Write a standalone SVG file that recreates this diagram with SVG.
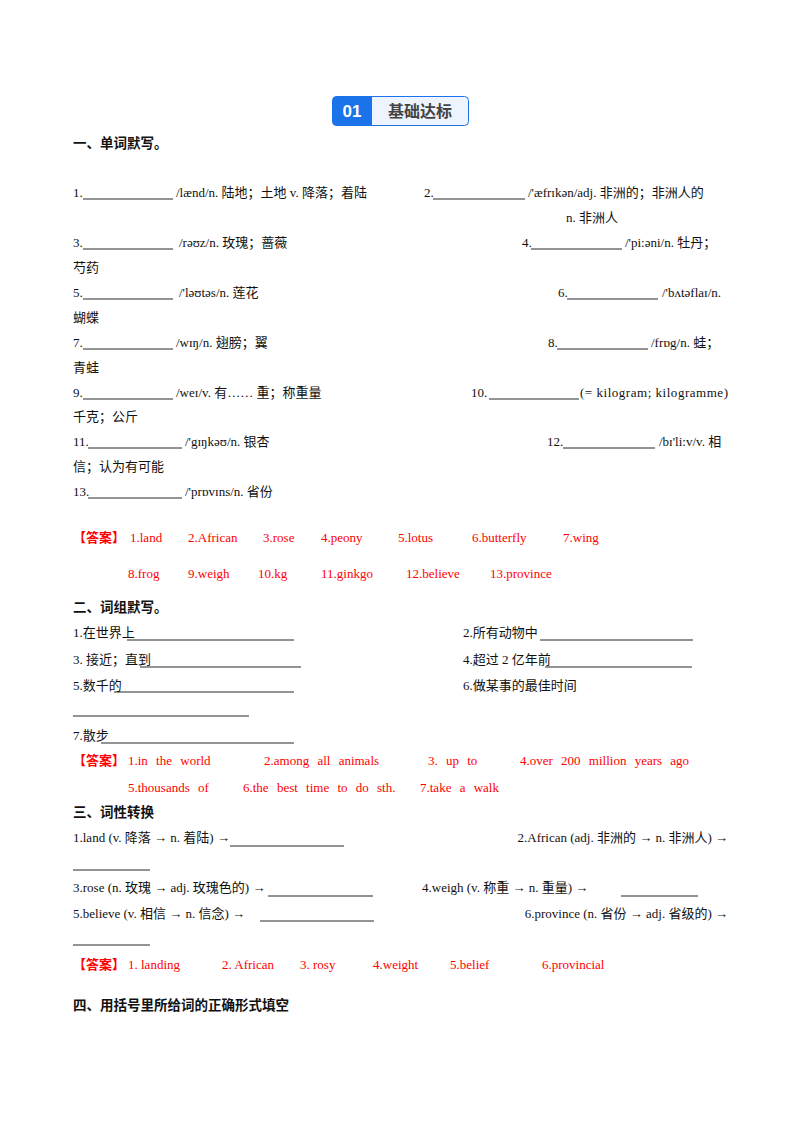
<svg xmlns="http://www.w3.org/2000/svg" width="800" height="1132" viewBox="0 0 800 1132">
<style>
text{font-family:"Liberation Serif","Noto Sans CJK SC",serif;font-size:13px;fill:#111}
.h{font-family:"Liberation Sans","Noto Sans CJK SC",sans-serif;font-weight:bold;font-size:13.5px}
.r{fill:#f00}
.rb{fill:#f00;font-family:"Noto Sans CJK SC",sans-serif;font-weight:bold}
.ws{word-spacing:5px}
.e{text-anchor:end}
line{stroke:#111;stroke-width:0.9}
</style>
<rect width="800" height="1132" fill="#fff"/>
<g id="badge">
<rect x="332.5" y="96.5" width="136" height="29" rx="4" fill="#eef4fd" stroke="#1a73e8"/>
<path d="M336.5 96.5 H372 V125.5 H336.5 A4 4 0 0 1 332.5 121.5 V100.5 A4 4 0 0 1 336.5 96.5Z" fill="#1a73e8"/>
<text x="352" y="117" text-anchor="middle" style="font-family:'Liberation Sans',sans-serif;font-weight:bold;font-size:17px;fill:#fff">01</text>
<text x="420" y="117" text-anchor="middle" style="font-family:'Noto Sans CJK SC',sans-serif;font-weight:bold;font-size:16px;fill:#444">基础达标</text>
</g>
<g id="sec1">
<text class="h" x="73" y="148">一、单词默写。</text>
<text x="73" y="197">1.</text><line x1="83" y1="199" x2="173" y2="199"/><text x="176" y="197">/lænd/n. 陆地；土地 v. 降落；着陆</text>
<text x="424" y="197">2.</text><line x1="433" y1="199" x2="525" y2="199"/><text x="528" y="197">/'æfrɪkən/adj. 非洲的；非洲人的</text>
<text x="566" y="222">n. 非洲人</text>
<text x="73" y="247">3.</text><line x1="83" y1="249" x2="173" y2="249"/><text x="179" y="247">/rəʊz/n. 玫瑰；蔷薇</text>
<text x="522" y="247">4.</text><line x1="531" y1="249" x2="622" y2="249"/><text x="625" y="247">/'pi:əni/n. 牡丹；</text>
<text x="73" y="272">芍药</text>
<text x="73" y="297">5.</text><line x1="83" y1="299" x2="173" y2="299"/><text x="179" y="297">/'ləʊtəs/n. 莲花</text>
<text x="558" y="297">6.</text><line x1="567" y1="299" x2="658" y2="299"/><text x="662" y="297">/'bʌtəflaɪ/n.</text>
<text x="73" y="322">蝴蝶</text>
<text x="73" y="347">7.</text><line x1="83" y1="349" x2="173" y2="349"/><text x="176" y="347">/wɪŋ/n. 翅膀；翼</text>
<text x="548" y="347">8.</text><line x1="557" y1="349" x2="648" y2="349"/><text x="651" y="347">/frɒg/n. 蛙；</text>
<text x="73" y="372">青蛙</text>
<text x="73" y="397">9.</text><line x1="83" y1="399" x2="173" y2="399"/><text x="176" y="397">/weɪ/v. 有…… 重；称重量</text>
<text x="471" y="397">10.</text><line x1="489" y1="399" x2="579" y2="399"/><text x="580" y="397" textLength="148">(= kilogram; kilogramme)</text>
<text x="73" y="421">千克；公斤</text>
<text x="73" y="446">11.</text><line x1="88" y1="448" x2="182" y2="448"/><text x="185" y="446">/'gɪŋkəʊ/n. 银杏</text>
<text x="547" y="446">12.</text><line x1="563" y1="448" x2="655" y2="448"/><text x="659" y="446">/bɪ'li:v/v. 相</text>
<text x="73" y="471">信；认为有可能</text>
<text x="73" y="496">13.</text><line x1="88" y1="498" x2="182" y2="498"/><text x="185" y="496">/'prɒvɪns/n. 省份</text>
<text class="rb" x="73" y="542">【答案】</text>
<text class="r" x="130" y="542">1.land</text><text class="r" x="188" y="542">2.African</text><text class="r" x="263" y="542">3.rose</text><text class="r" x="321" y="542">4.peony</text><text class="r" x="398" y="542">5.lotus</text><text class="r" x="472" y="542">6.butterfly</text><text class="r" x="563" y="542">7.wing</text>
<text class="r" x="128" y="578">8.frog</text><text class="r" x="188" y="578">9.weigh</text><text class="r" x="258" y="578">10.kg</text><text class="r" x="321" y="578">11.ginkgo</text><text class="r" x="406" y="578">12.believe</text><text class="r" x="490" y="578">13.province</text>
</g>
<g id="sec2">
<text class="h" x="73" y="612">二、词组默写。</text>
<text x="73" y="637">1.在世界上</text><line x1="127" y1="640" x2="294" y2="640"/>
<text x="463" y="637">2.所有动物中</text><line x1="540" y1="640" x2="693" y2="640"/>
<text x="73" y="664">3.  接近；直到</text><line x1="140" y1="667" x2="301" y2="667"/>
<text x="463" y="664">4.超过 2 亿年前</text><line x1="545" y1="667" x2="692" y2="667"/>
<text x="73" y="690">5.数千的</text><line x1="114" y1="692" x2="294" y2="692"/>
<text x="463" y="690">6.做某事的最佳时间</text>
<line x1="73" y1="716" x2="249" y2="716"/>
<text x="73" y="740">7.散步</text><line x1="101" y1="743" x2="294" y2="743"/>
<text class="rb" x="73" y="765">【答案】</text>
<text class="r ws" x="128" y="765">1.in the world</text><text class="r ws" x="264" y="765">2.among all animals</text><text class="r ws" x="428" y="765">3. up to</text><text class="r ws" x="520" y="765">4.over 200 million years ago</text>
<text class="r ws" x="128" y="792">5.thousands of</text><text class="r ws" x="243" y="792">6.the best time to do sth.</text><text class="r ws" x="420" y="792">7.take a walk</text>
</g>
<g id="sec3">
<text class="h" x="73" y="817">三、词性转换</text>
<text x="73" y="842">1.land (v. 降落 → n. 着陆) →</text><line x1="230" y1="846" x2="344" y2="846"/>
<text class="e" x="728" y="842">2.African (adj. 非洲的 → n. 非洲人) →</text>
<line x1="73" y1="870" x2="150" y2="870"/>
<text x="73" y="892">3.rose (n. 玫瑰 → adj. 玫瑰色的) →</text><line x1="268" y1="896" x2="373" y2="896"/>
<text x="422" y="892">4.weigh (v. 称重 → n. 重量) →</text><line x1="621" y1="896" x2="698" y2="896"/>
<text x="73" y="918">5.believe (v. 相信 → n. 信念) →</text><line x1="260" y1="921" x2="374" y2="921"/>
<text class="e" x="728" y="918">6.province (n. 省份 → adj. 省级的) →</text>
<line x1="73" y1="945" x2="150" y2="945"/>
<text class="rb" x="73" y="969">【答案】</text>
<text class="r" x="128" y="969">1. landing</text><text class="r" x="222" y="969">2. African</text><text class="r" x="300" y="969">3. rosy</text><text class="r" x="373" y="969">4.weight</text><text class="r" x="450" y="969">5.belief</text><text class="r" x="542" y="969">6.provincial</text>
</g>
<g id="sec4">
<text class="h" x="73" y="1010">四、用括号里所给词的正确形式填空</text>
</g>
</svg>
